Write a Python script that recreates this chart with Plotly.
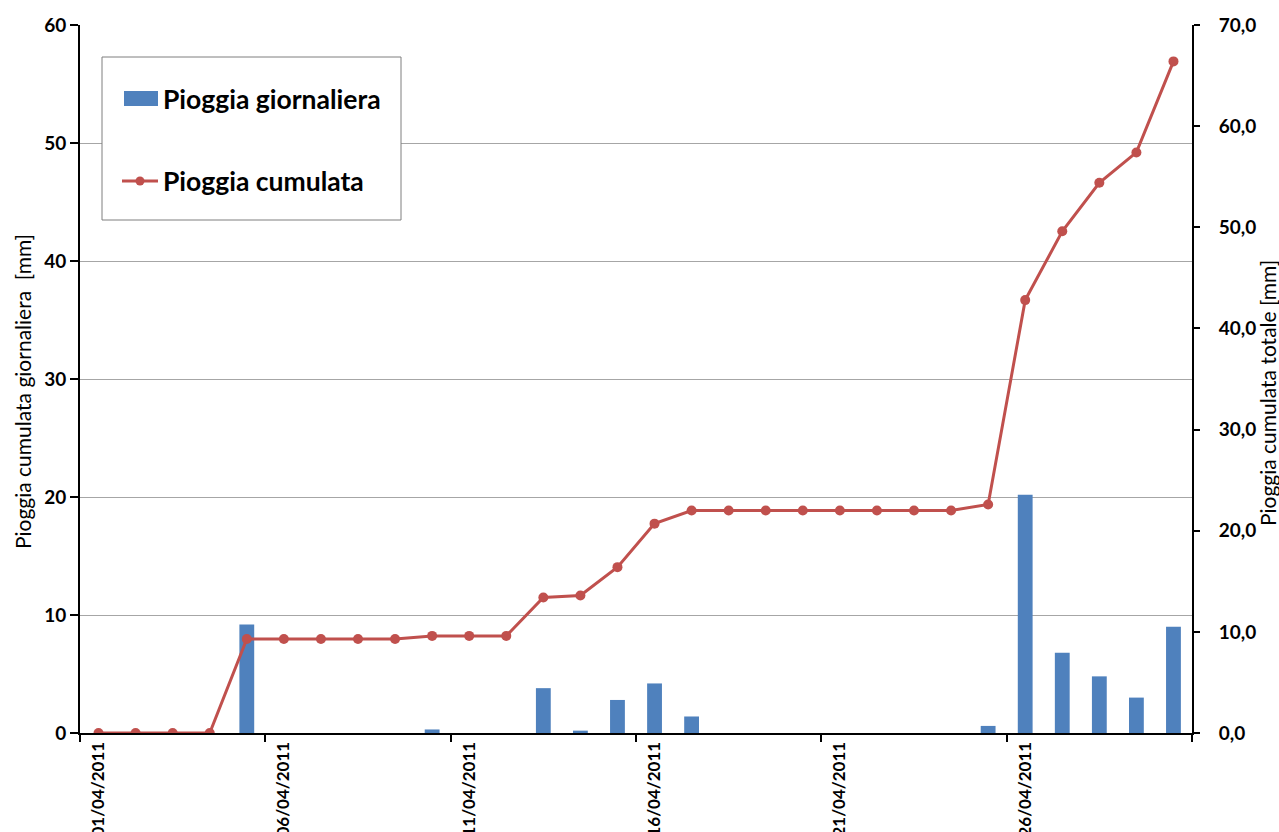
import plotly.graph_objects as go

# ---- data ----
dates = [f"{d:02d}/04/2011" for d in range(1, 31)]
daily_rain = [0, 0, 0, 0, 9.2, 0, 0, 0, 0, 0.3,
              0, 0, 3.8, 0.2, 2.8, 4.2, 1.4, 0, 0, 0,
              0, 0, 0, 0, 0.6, 20.2, 6.8, 4.8, 3.0, 9.0]
cumulative_rain = [0, 0, 0, 0, 9.3, 9.3, 9.3, 9.3, 9.3, 9.6,
                   9.6, 9.6, 13.4, 13.6, 16.4, 20.7, 22.0, 22.0, 22.0, 22.0,
                   22.0, 22.0, 22.0, 22.0, 22.6, 42.8, 49.6, 54.4, 57.4, 66.4]
left_ticks = [0, 10, 20, 30, 40, 50, 60]
right_ticks = [0, 10, 20, 30, 40, 50, 60, 70]

BLUE = "#4F81BD"
RED = "#C0504D"
FONT = "Lato"

W, H = 1279, 832
L, R, T, B = 80, 87, 25, 99
PW, PH = W - L - R, H - T - B


def px(x):
    return (x - L) / PW


def py(y):
    return (H - B - y) / PH


fig = go.Figure()
fig.add_trace(go.Bar(
    x=dates, y=daily_rain, name="Pioggia giornaliera",
    marker=dict(color=BLUE, line=dict(width=0)),
    width=0.4, yaxis="y", showlegend=False,
))
fig.add_trace(go.Scatter(
    x=dates, y=cumulative_rain, name="Pioggia cumulata",
    mode="lines+markers", line=dict(color=RED, width=3),
    marker=dict(color=RED, size=10), yaxis="y2", showlegend=False,
))

tickfont = dict(family=FONT, size=19, color="black", weight="bold")
xtickfont = dict(family=FONT, size=17, color="black", weight="bold")

fig.update_layout(
    width=W, height=H,
    margin=dict(l=L, r=R, t=T, b=B),
    paper_bgcolor="white", plot_bgcolor="white",
    separators=",.",
    xaxis=dict(
        type="category", range=[-0.5, 29.5], dtick=5, tick0=0,
        tickson="boundaries", ticks="outside", ticklen=7, tickwidth=2,
        tickcolor="black", showline=True, linecolor="black", linewidth=2,
        showgrid=False, tickangle=-90, tickfont=xtickfont, automargin=False,
        ticklabelstandoff=0,
    ),
    yaxis=dict(
        range=[0, 60], tickvals=left_ticks, ticks="outside", ticklen=8,
        tickwidth=2, tickcolor="black", showline=True, linecolor="black",
        linewidth=2, showgrid=True, gridcolor="#a6a6a6", gridwidth=1,
        zeroline=False, tickfont=tickfont, automargin=False,
    ),
    yaxis2=dict(
        range=[0, 70], tickvals=right_ticks, tickformat=".1f",
        overlaying="y", side="right", ticks="outside", ticklen=6,
        tickwidth=2, tickcolor="black", showline=True, linecolor="black",
        linewidth=2, showgrid=False, zeroline=False, tickfont=tickfont,
        automargin=False, ticklabelstandoff=15,
    ),
)

# axis titles
title_font = dict(family=FONT, size=21, color="black")
fig.add_annotation(text="Pioggia cumulata giornaliera  [mm]", xref="paper", yref="paper",
                   x=px(22), y=py(392), textangle=-90, showarrow=False,
                   font=title_font, xanchor="center", yanchor="middle")
fig.add_annotation(text="Pioggia cumulata totale [mm]", xref="paper", yref="paper",
                   x=px(1267), y=py(393), textangle=-90, showarrow=False,
                   font=title_font, xanchor="center", yanchor="middle")

# legend box
fig.add_shape(type="rect", xref="paper", yref="paper",
              x0=px(102), x1=px(401), y0=py(57), y1=py(220),
              line=dict(color="#7f7f7f", width=1), fillcolor="white")
fig.add_shape(type="rect", xref="paper", yref="paper",
              x0=px(124), x1=px(158), y0=py(91), y1=py(106),
              line=dict(width=0), fillcolor=BLUE)
fig.add_shape(type="line", xref="paper", yref="paper",
              x0=px(122), x1=px(158), y0=py(181), y1=py(181),
              line=dict(color=RED, width=3))
fig.add_shape(type="circle", xref="paper", yref="paper",
              x0=px(135.5), x1=px(144.5), y0=py(176.5), y1=py(185.5),
              line=dict(width=0), fillcolor=RED)
leg_font = dict(family=FONT, size=26.5, color="black", weight="bold")
fig.add_annotation(text="Pioggia giornaliera", xref="paper", yref="paper",
                   x=px(161), y=py(99), showarrow=False, font=leg_font,
                   xanchor="left", yanchor="middle")
fig.add_annotation(text="Pioggia cumulata", xref="paper", yref="paper",
                   x=px(161), y=py(181), showarrow=False, font=leg_font,
                   xanchor="left", yanchor="middle")

fig.write_html("out.html")
